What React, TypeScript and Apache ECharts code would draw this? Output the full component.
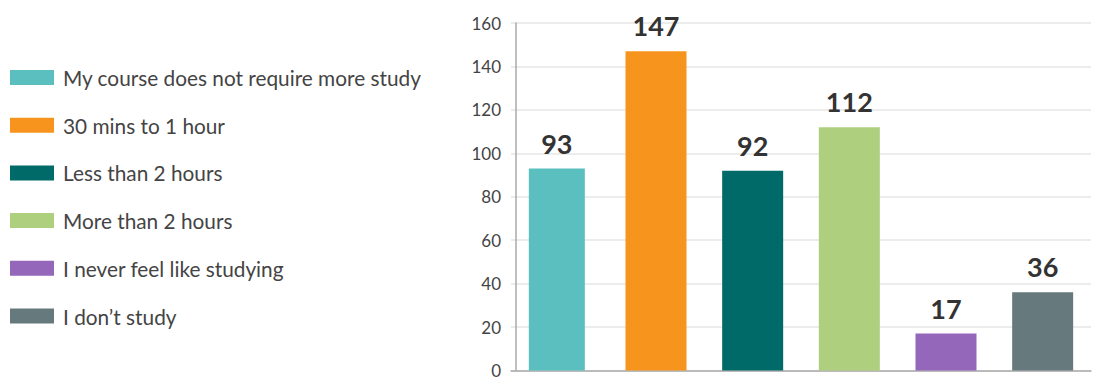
import React, { useEffect, useRef } from "react";
import * as echarts from "echarts";

const categories = [
  "My course does not require more study",
  "30 mins to 1 hour",
  "Less than 2 hours",
  "More than 2 hours",
  "I never feel like studying",
  "I don\u2019t study",
];
const values = [93, 147, 92, 112, 17, 36];
const colors = ["#5bbfc0", "#f7941e", "#006a69", "#aecf7e", "#9467bb", "#66797c"];
const yTicks = { min: 0, max: 160, interval: 20 };

const FONT = "Lato, 'Open Sans', sans-serif";

export default function App() {
  const ref = useRef<HTMLDivElement>(null);

  useEffect(() => {
    if (!ref.current) return;
    const chart = echarts.init(ref.current, undefined, { renderer: "svg" });

    const series = categories.map((name, i) => ({
      name,
      type: "bar",
      barWidth: i === 0 ? 56 : 61,
      barGap: "-100%",
      itemStyle: { color: colors[i] },
      data: values.map((v, j) => (j === i ? v : "-")),
      label: {
        show: true,
        position: "top",
        distance: 12,
        color: "#333",
        fontFamily: FONT,
        fontWeight: "bold",
        fontSize: 27,
      },
    }));

    chart.setOption({
      animation: false,
      textStyle: { fontFamily: FONT },
      legend: {
        orient: "vertical",
        left: 5,
        top: 62,
        itemWidth: 44,
        itemHeight: 15,
        itemGap: 26.7,
        icon: "rect",
        selectedMode: false,
        textStyle: { color: "#444", fontSize: 20.8, fontFamily: FONT, padding: [0, 0, 0, 4] },
        data: categories,
      },
      grid: { left: 511, right: 8, top: 23, bottom: 8 },
      xAxis: {
        type: "category",
        data: categories,
        axisLine: { lineStyle: { color: "#aaaaaa", width: 1.5 } },
        axisTick: { show: false },
        axisLabel: { show: false },
      },
      yAxis: {
        type: "value",
        min: yTicks.min,
        max: yTicks.max,
        interval: yTicks.interval,
        offset: -5,
        axisLine: { show: true, lineStyle: { color: "#aaaaaa", width: 1.5 } },
        axisTick: { show: false },
        axisLabel: { color: "#444", fontSize: 17, fontFamily: FONT, margin: 15 },
        splitLine: { lineStyle: { color: "#e6e6e6", width: 1.5 } },
      },
      series,
    });

    return () => chart.dispose();
  }, []);

  return (
    <div
      ref={ref}
      style={{ position: "absolute", left: 0, top: 0, width: 1099, height: 379 }}
    />
  );
}
